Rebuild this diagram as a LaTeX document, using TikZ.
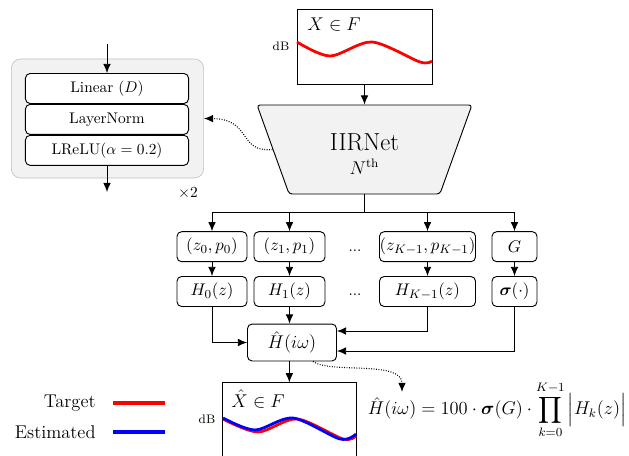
\documentclass[tikz,border=0pt]{standalone}
\usepackage{amsmath, amssymb}
\usetikzlibrary{shapes.geometric, arrows.meta, positioning, calc}

\begin{document}
\begin{tikzpicture}[x=0.65pt, y=-0.65pt,
  blk/.style={draw, rounded corners=3pt, align=center, inner sep=0pt, line width=0.6pt, minimum height=19.5pt, font=\fontsize{11}{13}\selectfont},
  layer/.style={draw, rounded corners=3pt, fill=white, line width=0.6pt, minimum width=106pt, minimum height=19.5pt, inner sep=0pt},
  plotbox/.style={draw, line width=0.6pt, fill=white, minimum width=87.75pt, minimum height=48.75pt, inner sep=0pt},
  arr/.style={-{Latex[length=6pt,width=5pt]}, line width=0.6pt},
  dotarr/.style={arr, densely dotted, line width=0.7pt},
  curve/.style={line width=1.8pt, smooth}
]
  \useasboundingbox (0,0) rectangle (629,456);

  % repeated MLP block
  \node[draw=gray!50, fill=gray!10, rounded corners=6pt, minimum width=125pt, minimum height=77.35pt] (mlp) at (107.5,118.5) {};
  \node[layer] (lin) at (107,88.5) {Linear ($D$)};
  \node[layer, below=0pt of lin] (norm) {LayerNorm};
  \node[layer, below=0pt of norm] (act) {LReLU($\alpha = 0.2$)};
  \coordinate (mlpin) at (107,44);
  \coordinate (mlpout) at (107,192);
  \draw[arr] (mlpin) -- (lin.north);
  \draw[arr] (act.south) -- (mlpout);
  \node (rep) at (188,193) {$\times 2$};

  % input response
  \node[plotbox] (xin) at (364.5,46.5) {};
  \node[anchor=west, font=\fontsize{13}{15}\selectfont] (xinlab) at (302,25) {$X \in F$};
  \node[font=\footnotesize] (dbin) at (281,46) {dB};
  \draw[curve, red] plot coordinates {(297,42) (330,56) (372,42) (420,62) (432,61)};

  % network
  \node[trapezium, shape border rotate=180, trapezium left angle=78, trapezium right angle=78,
        trapezium stretches=true, minimum width=139.75pt, minimum height=57.85pt,
        draw, line width=0.6pt, fill=gray!10, rounded corners=2pt] (iir) at (364.5,149.5) {};
  \node[font=\fontsize{16}{19}\selectfont] (iirlab) at (364.5,142) {IIRNet};
  \node[font=\large] (order) at (364.5,167) {$N^{\text{th}}$};
  \draw[arr] (xin.south) -- (iir.north);
  \draw[dotarr] (iir.west) .. controls (238,153) and (252,119) .. (mlp.east);

  % biquad parameters
  \node[blk, minimum width=45.5pt] (zp0) at (212,246.7) {$(z_0, p_0)$};
  \node[blk, minimum width=46.15pt] (zp1) at (289.5,246.7) {$(z_1, p_1)$};
  \node (dots1) at (355,251) {...};
  \node[blk, minimum width=62.4pt] (zpk) at (427.5,246.7) {$(z_{K-1}, p_{K-1})$};
  \node[blk, minimum width=29.25pt] (g) at (514.5,246.7) {$G$};

  \node[blk, minimum width=45.5pt] (h0) at (212,291.5) {$H_0(z)$};
  \node[blk, minimum width=46.15pt] (h1) at (289.5,291.5) {$H_1(z)$};
  \node (dots2) at (355,295) {...};
  \node[blk, minimum width=62.4pt] (hk) at (427.5,291.5) {$H_{K-1}(z)$};
  \node[blk, minimum width=29.25pt] (sig) at (514.5,291.5) {$\boldsymbol{\sigma}(\cdot)$};

  \coordinate (split) at (364.5,212.7);
  \draw[line width=0.6pt] (iir.south) -- (split);
  \draw[line width=0.6pt] (zp0.north |- split) -- (g.north |- split);
  \foreach \n in {zp0, zp1, zpk, g}
    \draw[arr] (\n.north |- split) -- (\n.north);
  \foreach \a/\b in {zp0/h0, zp1/h1, zpk/hk, g/sig}
    \draw[arr] (\a) -- (\b);

  % combined response
  \node[blk, minimum width=57.85pt, minimum height=24pt, font=\large] (hhat) at (292,342.5) {$\hat{H}(i\omega)$};
  \draw[arr] (h0.south) |- (hhat.west);
  \draw[arr] (h1.south) -- (h1.south |- hhat.north);
  \draw[arr] (hk.south) |- ($(hhat.east)+(0,-11.5)$);
  \draw[arr] (sig.south) |- ($(hhat.east)+(0,8.5)$);

  % output response
  \node[minimum width=86.6pt, minimum height=47.6pt, inner sep=0pt] (xout) at (289.35,419.35) {};
  \draw[line width=0.6pt] (xout.south west) -- (xout.north west) -- (xout.north east) -- (xout.south east);
  \node[anchor=west, font=\fontsize{13}{15}\selectfont] (xoutlab) at (226,399) {$\hat{X} \in F$};
  \node[font=\footnotesize] (dbout) at (207,419) {dB};
  \draw[curve, red] plot coordinates {(223,419) (258,432) (297,419) (343,439) (356,436)};
  \draw[curve, blue] plot coordinates {(223,418) (255,430) (293,418) (340,439) (356,434)};
  \draw[arr] (hhat.south -| xout.north) -- (xout.north);

  % legend
  \node[anchor=east, font=\large] (tgt) at (101,403) {Target};
  \node[anchor=east, font=\large] (est) at (101,432) {Estimated};
  \draw[red, line width=2pt] ($(tgt.east)+(12,0)$) -- ++(52,0);
  \draw[blue, line width=2pt] ($(est.east)+(12,0)$) -- ++(52,0);

  % equation
  \node[anchor=west, font=\large, inner sep=1pt] (eq) at (366,410) {$\displaystyle \hat{H}(i\omega) = 100 \cdot \boldsymbol{\sigma}(G) \cdot \prod_{k=0}^{K-1}\, \Bigl| H_k(z) \Bigr|$};
  \coordinate (eqtop) at (402,392);
  \draw[dotarr] ($(hhat.south)+(21,0)$) .. controls (330,374) and (402,360) .. (eqtop);
\end{tikzpicture}
\end{document}
